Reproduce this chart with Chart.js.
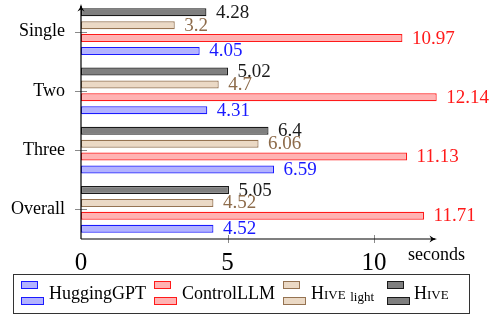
<!DOCTYPE html>
<html>
<head>
<meta charset="utf-8">
<script src="https://cdn.jsdelivr.net/npm/chart.js@4.4.0/dist/chart.umd.min.js"></script>
<style>
    html, body { margin: 0; padding: 0; background: #fff; }
    body { position: relative; width: 497px; height: 315px; overflow: hidden; font-family: "Liberation Serif", serif; }
    #chart { position: absolute; left: 0; top: 0; }
    .legend-box { position: absolute; left: 13px; top: 274px; width: 455px; height: 38px; border: 1px solid #333; }
    .icon { position: absolute; box-sizing: border-box; border-width: 1.2px; border-style: solid; }
    .lbl { position: absolute; top: 284px; font-size: 18px; line-height: 18px; color: #000; white-space: nowrap; }
    .sc { font-variant: small-caps; }
    .sub { font-size: 13px; vertical-align: -2px; }
</style>
</head>
<body>
<canvas id="chart" width="497" height="315"></canvas>
<div class="legend-box"></div>
<div id="legend"></div>
<script>
    const categories = ['Single', 'Two', 'Three', 'Overall'];
    const huggingGPT = [4.05, 4.31, 6.59, 4.52];
    const controlLLM = [10.97, 12.14, 11.13, 11.71];
    const hiveLight = [3.2, 4.7, 6.06, 4.52];
    const hive = [4.28, 5.02, 6.4, 5.05];
    const xTicks = [0, 5, 10];

    const serif = '"Liberation Serif", serif';

    // drawn top to bottom inside each group
    const series = [
        { label: 'Hive', data: hive, fill: '#7f7f7f', border: '#1a1a1a', text: '#1a1a1a' },
        { label: 'Hive light', data: hiveLight, fill: '#ebd9c5', border: '#957352', text: '#8d6b4a' },
        { label: 'ControlLLM', data: controlLLM, fill: '#ffb3b3', border: '#ff1a1a', text: '#ff1a1a' },
        { label: 'HuggingGPT', data: huggingGPT, fill: '#b3b3ff', border: '#1a1aff', text: '#1a1aff' }
    ];

    // legend order (as in the figure)
    const legendItems = [
        { html: 'HuggingGPT', s: series[3], x: 21, tx: 49 },
        { html: 'ControlLLM', s: series[2], x: 154, tx: 182 },
        { html: '<span class="sc">Hive</span> <span class="sub">light</span>', s: series[1], x: 283, tx: 311 },
        { html: '<span class="sc">Hive</span>', s: series[0], x: 387, tx: 414 }
    ];
    const legendEl = document.getElementById('legend');
    legendItems.forEach(item => {
        const top = document.createElement('div');
        top.className = 'icon';
        top.style.cssText = `left:${item.x}px;top:281px;width:17px;height:7.5px;background:${item.s.fill};border-color:${item.s.border};`;
        const bottom = document.createElement('div');
        bottom.className = 'icon';
        bottom.style.cssText = `left:${item.x}px;top:297px;width:22.5px;height:7.5px;background:${item.s.fill};border-color:${item.s.border};`;
        const lbl = document.createElement('div');
        lbl.className = 'lbl';
        lbl.style.left = item.tx + 'px';
        lbl.innerHTML = item.html;
        legendEl.append(top, bottom, lbl);
    });

    function arrowHead(ctx, x, y, dir) {
        // dir: 'up' or 'right'
        ctx.save();
        ctx.translate(x, y);
        if (dir === 'right') ctx.rotate(Math.PI / 2);
        ctx.beginPath();
        ctx.moveTo(0, 0);
        ctx.quadraticCurveTo(0.6, 4, 3.6, 7.5);
        ctx.lineTo(0, 5.6);
        ctx.lineTo(-3.6, 7.5);
        ctx.quadraticCurveTo(-0.6, 4, 0, 0);
        ctx.closePath();
        ctx.fill();
        ctx.restore();
    }

    const decorPlugin = {
        id: 'decor',
        afterDatasetsDraw(chart) {
            const ctx = chart.ctx;
            const area = chart.chartArea;
            const xs = chart.scales.x;
            const ys = chart.scales.y;

            // value labels
            ctx.save();
            ctx.font = '19px ' + serif;
            ctx.textBaseline = 'middle';
            ctx.textAlign = 'left';
            chart.data.datasets.forEach((ds, i) => {
                chart.getDatasetMeta(i).data.forEach((el, j) => {
                    ctx.fillStyle = series[i].text;
                    ctx.fillText(String(ds.data[j]), el.x + 9.5, el.y + 0.5);
                });
            });
            ctx.restore();

            // tick marks
            ctx.save();
            ctx.strokeStyle = '#8a8a8a';
            ctx.lineWidth = 1;
            categories.forEach((c, i) => {
                const y = Math.round(ys.getPixelForValue(i)) + 0.5;
                ctx.beginPath();
                ctx.moveTo(area.left - 6, y);
                ctx.lineTo(area.left + 6, y);
                ctx.stroke();
            });
            xTicks.forEach(v => {
                if (v === 0) return;
                const x = Math.round(xs.getPixelForValue(v)) + 0.5;
                ctx.beginPath();
                ctx.moveTo(x, area.bottom - 4);
                ctx.lineTo(x, area.bottom + 4);
                ctx.stroke();
            });
            ctx.restore();

            // axes with arrows
            ctx.save();
            ctx.strokeStyle = '#000';
            ctx.fillStyle = '#000';
            ctx.lineWidth = 1.2;
            ctx.beginPath();
            ctx.moveTo(area.left, area.bottom);
            ctx.lineTo(area.left, 6);
            ctx.moveTo(area.left, area.bottom);
            ctx.lineTo(area.right - 2, area.bottom);
            ctx.stroke();
            arrowHead(ctx, area.left, 4, 'up');
            arrowHead(ctx, area.right, area.bottom, 'right');

            // axis title
            ctx.font = '18px ' + serif;
            ctx.textBaseline = 'alphabetic';
            ctx.textAlign = 'left';
            ctx.fillText('seconds', 408, 260);
            ctx.restore();
        }
    };

    new Chart(document.getElementById('chart').getContext('2d'), {
        type: 'bar',
        data: {
            labels: categories,
            datasets: series.map(s => ({
                label: s.label,
                data: s.data,
                backgroundColor: s.fill,
                borderColor: s.border,
                borderWidth: 1.2,
                borderSkipped: false,
                categoryPercentage: 0.87,
                barPercentage: 0.62
            }))
        },
        options: {
            indexAxis: 'y',
            responsive: false,
            animation: false,
            devicePixelRatio: 1,
            layout: { padding: { left: 0, right: 60, top: 2, bottom: 0 } },
            scales: {
                x: {
                    type: 'linear',
                    min: 0,
                    max: 12.15,
                    grid: { display: false, drawTicks: false },
                    border: { display: false },
                    ticks: { stepSize: 5, padding: 9, color: '#000', font: { family: serif, size: 25 } },
                    afterBuildTicks: scale => { scale.ticks = xTicks.map(v => ({ value: v })); },
                    afterFit: scale => {
                        scale.height = 76;
                        scale.paddingLeft = 0;
                        scale.paddingRight = 0;
                    }
                },
                y: {
                    grid: { display: false, drawTicks: false },
                    border: { display: false },
                    ticks: { padding: 16, color: '#000', font: { family: serif, size: 18 } },
                    afterFit: scale => {
                        scale.width = 81;
                        scale.paddingTop = 0;
                        scale.paddingBottom = 0;
                    }
                }
            },
            plugins: {
                legend: { display: false },
                tooltip: { enabled: false }
            }
        },
        plugins: [decorPlugin]
    });
</script>
</body>
</html>
